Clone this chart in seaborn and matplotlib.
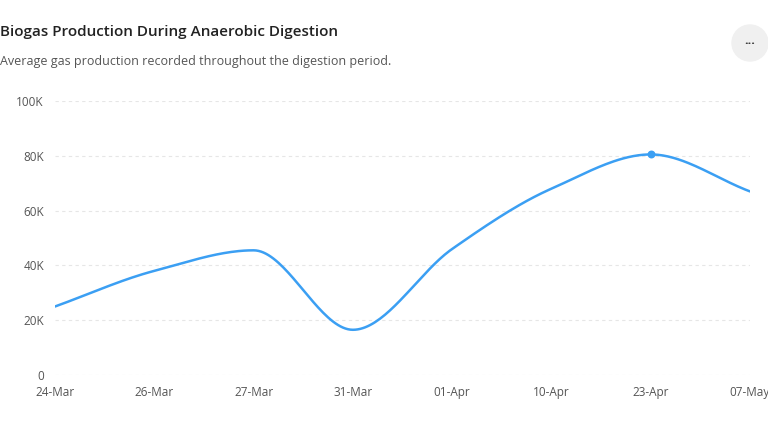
import numpy as np
import pandas as pd
import matplotlib
matplotlib.use("Agg")
import matplotlib.pyplot as plt
from matplotlib.patches import Ellipse
import seaborn as sns

dates = ["24-Mar", "26-Mar", "27-Mar", "31-Mar", "01-Apr", "10-Apr", "23-Apr", "07-May"]
gas = [25000, 38000, 45500, 16500, 46000, 68000, 80500, 67000]
highlight = "23-Apr"


def monotone(x, y, n=40):
    # monotone cubic (Fritsch-Carlson) for the smooth line
    x = np.asarray(x, float)
    y = np.asarray(y, float)
    h = np.diff(x)
    d = np.diff(y) / h
    m = np.zeros_like(y)
    m[0], m[-1] = d[0], d[-1]
    for i in range(1, len(y) - 1):
        if d[i - 1] * d[i] > 0:
            m[i] = 2 / (1 / d[i - 1] + 1 / d[i])
    xs, ys = [], []
    for i in range(len(h)):
        t = np.linspace(0, 1, n, endpoint=False)
        h00 = 2 * t**3 - 3 * t**2 + 1
        h10 = t**3 - 2 * t**2 + t
        h01 = -2 * t**3 + 3 * t**2
        h11 = t**3 - t**2
        xs.append(x[i] + t * h[i])
        ys.append(h00 * y[i] + h10 * h[i] * m[i] + h01 * y[i + 1] + h11 * h[i] * m[i + 1])
    xs.append([x[-1]])
    ys.append([y[-1]])
    return np.concatenate(xs), np.concatenate(ys)


sns.set_style("white")
plt.rcParams["font.family"] = ["Open Sans", "DejaVu Sans"]

fig = plt.figure(figsize=(7.68, 4.32), dpi=100)
ax = fig.add_axes([55 / 768, 57 / 432, 695 / 768, 274 / 432])

idx = np.arange(len(dates))
sx, sy = monotone(idx, gas)
curve = pd.DataFrame({"x": sx, "y": sy})
sns.lineplot(data=curve, x="x", y="y", ax=ax, color="#3b9ff3", linewidth=1.8)
hi = dates.index(highlight)
ax.scatter([hi], [gas[hi]], color="#3b9ff3", s=22, zorder=5)

ax.set_xlim(0, len(dates) - 1)
ax.set_ylim(0, 100000)
ax.set_xticks(idx)
ax.set_xticklabels(dates)
yt = np.arange(0, 100001, 20000)
ax.set_yticks(yt)
ax.set_yticklabels(["0"] + [f"{v // 1000}K" for v in yt[1:]])
for v in yt:
    ax.axhline(v, color="#e6e6e6", linestyle=(0, (3, 3)), linewidth=0.8, zorder=0)
for s in ax.spines.values():
    s.set_visible(False)
ax.tick_params(axis="both", length=0, labelsize=8.5, labelcolor="#555555")
ax.tick_params(axis="x", pad=8)
ax.tick_params(axis="y", pad=8)
ax.set_xlabel("")
ax.set_ylabel("")

fig.text(0, 1 - 32 / 432, "Biogas Production During Anaerobic Digestion",
         fontsize=11, fontweight="semibold", color="#222222", va="center")
fig.text(0, 1 - 62 / 432, "Average gas production recorded throughout the digestion period.",
         fontsize=9, color="#555555", va="center")
circ = Ellipse((750 / 768, 1 - 43 / 432), 36 / 768, 36 / 432, transform=fig.transFigure,
               color="#f0f0f0", zorder=0)
fig.patches.append(circ)
fig.text(750 / 768, 1 - 43 / 432, "···", ha="center", va="center", fontsize=9,
         color="#333333", fontweight="bold")

fig.savefig("out.png", dpi=100)
